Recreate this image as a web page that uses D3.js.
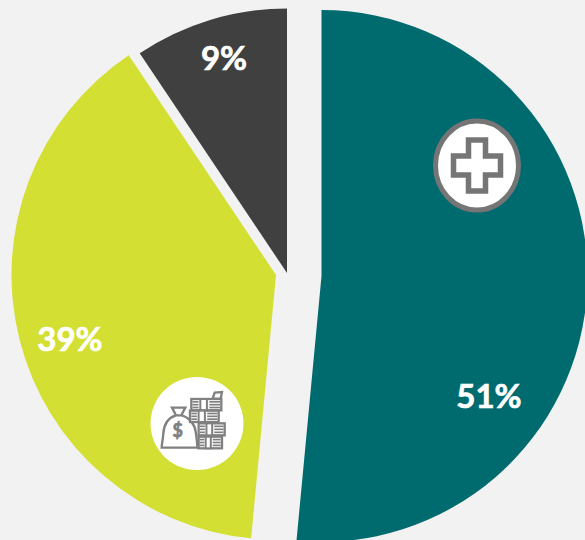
<!DOCTYPE html>
<html>
<head>
<meta charset="utf-8">
<script src="https://cdn.jsdelivr.net/npm/d3@7"></script>
<style>
html,body{margin:0;padding:0;background:#f2f2f2;overflow:hidden}
svg{display:block}
text{font-family:Lato,"Open Sans",sans-serif;font-weight:700;fill:#fff}
</style>
</head>
<body>
<svg id="chart" width="585" height="540"></svg>
<script>
//data
const labels = ["51%","39%","9%"]
const shares = [51.5,39.1,9.4]
const colors = ["#006b6f","#d4df33","#404040"]

//layout, each slice is pulled away from the middle on its own
const radii = [266,264.5,264.5]
const centers = [[321.5,276],[276,275],[287,273]]
const labelPos = [[489,396],[70,339],[224,58]]

const svg = d3.select("#chart")
svg.append("rect").attr("width",585).attr("height",540).attr("fill","#f2f2f2")

const pie = d3.pie().sort(null)
const arc = d3.arc().innerRadius(0).outerRadius(d=>radii[d.index])

svg.selectAll("path.slice")
  .data(pie(shares))
  .join("path")
  .attr("class","slice")
  .attr("d",arc)
  .attr("fill",(d,i)=>colors[i])
  .attr("transform",(d,i)=>`translate(${centers[i][0]},${centers[i][1]})`)

svg.selectAll("text.pct")
  .data(labels)
  .join("text")
  .attr("class","pct")
  .attr("x",(d,i)=>labelPos[i][0])
  .attr("y",(d,i)=>labelPos[i][1])
  .attr("dy","0.36em")
  .attr("text-anchor","middle")
  .attr("font-size",33)
  .attr("stroke","#fff")
  .attr("stroke-width",0.7)
  .text(d=>d)

//plus icon, the picture was stretched a bit in height
const plus = svg.append("g").attr("transform","translate(477,165.5)")
plus.append("ellipse").attr("rx",41.5).attr("ry",44.5).attr("fill","#fff").attr("stroke","#757575").attr("stroke-width",5)
plus.append("path")
  .attr("d","M-8.5,-25.5H8.5V-9.5H23.5V9.5H8.5V25.5H-8.5V9.5H-23.5V-9.5H-8.5Z")
  .attr("fill","none").attr("stroke","#757575").attr("stroke-width",5.5)

//money icon, drawn in the 3x coordinates of the crop
svg.append("circle").attr("cx",197).attr("cy",423.5).attr("r",46.5).attr("fill","#fff")
const money = svg.append("g").attr("transform","translate(140,370) scale(0.3333)")
  .attr("fill","none").attr("stroke","#808080").attr("stroke-width",7)
money.append("path")
  .attr("d","M96,113H136L124,136H108ZM108,136C88,142 72,160 70,190C69,210 65,222 65,233H172C172,222 170,205 167,185C164,162 148,142 124,136")
money.append("text").attr("x",113).attr("y",200)
  .attr("text-anchor","middle").attr("font-size",54)
  .style("fill","#808080").attr("stroke","#808080").attr("stroke-width",2).text("$")

//note stacks, x y w h
const stacks = [[154,87,90,34],[150,122,86,34],[176,160,78,36],[176,200,70,35]]
stacks.forEach(s=>{
  money.append("rect").attr("x",s[0]).attr("y",s[1]).attr("width",s[2]).attr("height",s[3]).attr("fill","#fff")
  money.append("rect").attr("x",s[0]+s[2]*0.3).attr("y",s[1]).attr("width",s[2]*0.22).attr("height",s[3])
    .attr("fill","#fff").attr("stroke-width",6)
  d3.range(3).forEach(k=>{
    const yy = s[1]+s[3]*(k+1)/4
    money.append("line").attr("x1",s[0]+s[2]*0.6).attr("x2",s[0]+s[2]-4).attr("y1",yy).attr("y2",yy).attr("stroke-width",5)
    money.append("line").attr("x1",s[0]+4).attr("x2",s[0]+s[2]*0.24).attr("y1",yy).attr("y2",yy).attr("stroke-width",5)
  })
})
money.append("path").attr("d","M224,68L246,66L242,86H218Z").attr("fill","#fff")
</script>
</body>
</html>
